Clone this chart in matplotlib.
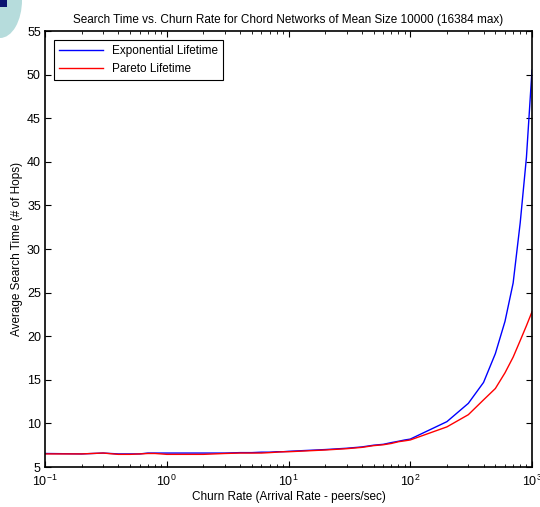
import numpy as np
import matplotlib.pyplot as plt
from matplotlib.patches import Ellipse, Rectangle

plt.rcParams['font.family'] = ['Liberation Sans', 'DejaVu Sans']
plt.rcParams['axes.unicode_minus'] = False
plt.rcParams['mathtext.fontset'] = 'custom'
plt.rcParams['mathtext.rm'] = 'Liberation Sans'

# churn rate (peers/sec)
rate = [0.1, 0.2, 0.3, 0.4, 0.5, 0.6, 0.7, 0.8, 0.9,
        1, 2, 3, 4, 5, 6, 7, 8, 9,
        10, 20, 30, 40, 50, 60, 70, 80, 90,
        100, 200, 300, 400, 500, 600, 700, 800, 900, 1000]

expo = [6.55, 6.5, 6.6, 6.5, 6.5, 6.5, 6.6, 6.6, 6.6,
        6.6, 6.6, 6.6, 6.65, 6.65, 6.7, 6.7, 6.75, 6.75,
        6.8, 7.0, 7.15, 7.3, 7.5, 7.6, 7.8, 7.95, 8.1,
        8.2, 10.2, 12.3, 14.7, 18.0, 21.7, 26.1, 33.0, 40.5, 50.5]

pareto = [6.5, 6.5, 6.6, 6.45, 6.45, 6.5, 6.55, 6.55, 6.5,
          6.45, 6.45, 6.55, 6.6, 6.6, 6.6, 6.65, 6.7, 6.75,
          6.75, 6.95, 7.1, 7.25, 7.45, 7.55, 7.7, 7.9, 8.0,
          8.1, 9.6, 11.0, 12.7, 14.0, 15.8, 17.6, 19.5, 21.2, 22.8]

xticks = [0.1, 1, 10, 100, 1000]
xlabels = ['$10^{-1}$', '$10^{0}$', '$10^{1}$', '$10^{2}$', '$10^{3}$']

fig = plt.figure(figsize=(5.4, 5.07), dpi=100)
ax = fig.add_axes([45/540, 1 - 467/507, 487/540, 436/507])

ax.semilogx(rate, expo, color='#0000ff', lw=1.0, label='Exponential Lifetime')
ax.semilogx(rate, pareto, color='#ff0000', lw=1.0, label='Pareto Lifetime')

ax.set_xlim(0.1, 1000)
ax.set_ylim(5, 55)
ax.set_yticks(np.arange(5, 56, 5))
ax.set_xticks(xticks)
ax.set_xticklabels(xlabels)
ax.tick_params(which='both', direction='in', top=True, right=True, labelsize=9)
ax.tick_params(which='major', length=4)
ax.tick_params(which='minor', length=2)
ax.tick_params(axis='x', pad=5)
ax.tick_params(axis='y', pad=3)
for s in ax.spines.values():
    s.set_linewidth(1.2)

ax.set_title('Search Time vs. Churn Rate for Chord Networks of Mean Size 10000 (16384 max)',
             fontsize=8.5, pad=6)
ax.set_xlabel('Churn Rate (Arrival Rate - peers/sec)', fontsize=8.5, labelpad=1)
ax.set_ylabel('Average Search Time (# of Hops)', fontsize=8.5, labelpad=3)

leg = ax.legend(loc='upper left', fontsize=8.5, fancybox=False, edgecolor='black',
                framealpha=1, borderaxespad=0.8, handlelength=3.7)
leg.get_frame().set_linewidth(0.8)

# slide decoration in top-left corner
fig.patches.append(Ellipse((0, 1), 44/540, 76/507, transform=fig.transFigure,
                           facecolor='#b6dcdc', edgecolor='none'))
fig.patches.append(Rectangle((0, 1 - 7/507), 7/540, 7/507, transform=fig.transFigure,
                             facecolor='#0b1470', edgecolor='none'))

fig.savefig('out.png', dpi=100)
